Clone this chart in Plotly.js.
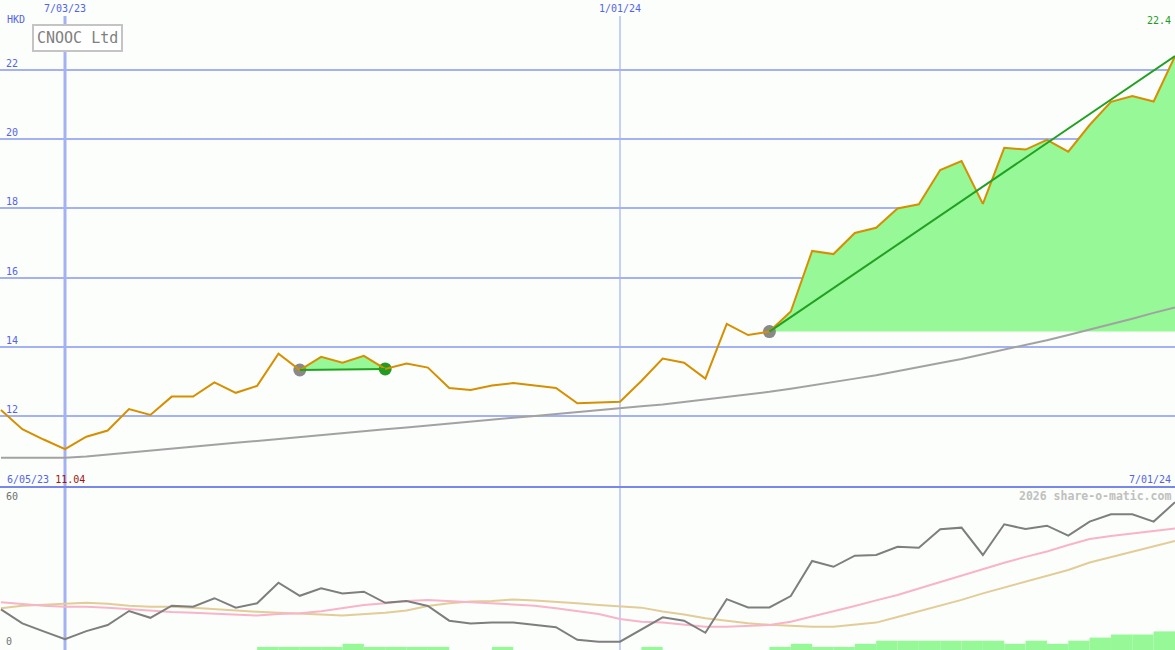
<!DOCTYPE html>
<html>
<head>
<meta charset="utf-8">
<script src="https://cdn.plot.ly/plotly-3.0.1.min.js"></script>
<style>html,body{margin:0;padding:0;background:#fbfefb;}#chart{width:1175px;height:650px;}</style>
</head>
<body>
<div id="chart"></div>
<script>
// ---------- data ----------
const dates = [
 '2023-06-12','2023-06-19','2023-06-26','2023-07-03','2023-07-10','2023-07-17','2023-07-24','2023-07-31',
 '2023-08-07','2023-08-14','2023-08-21','2023-08-28','2023-09-04','2023-09-11','2023-09-18','2023-09-25',
 '2023-10-02','2023-10-09','2023-10-16','2023-10-23','2023-10-30','2023-11-06','2023-11-13','2023-11-20',
 '2023-11-27','2023-12-04','2023-12-11','2023-12-18','2023-12-25','2024-01-01','2024-01-08','2024-01-15',
 '2024-01-22','2024-01-29','2024-02-05','2024-02-12','2024-02-19','2024-02-26','2024-03-04','2024-03-11',
 '2024-03-18','2024-03-25','2024-04-01','2024-04-08','2024-04-15','2024-04-22','2024-04-29','2024-05-06',
 '2024-05-13','2024-05-20','2024-05-27','2024-06-03','2024-06-10','2024-06-17','2024-06-24','2024-07-01'
];
const price = [
 12.17,11.62,11.32,11.04,11.40,11.58,12.20,12.03,12.56,12.56,
 12.97,12.67,12.87,13.80,13.33,13.71,13.54,13.74,13.36,13.52,
 13.40,12.81,12.75,12.88,12.95,12.89,12.81,12.37,12.38,12.41,
 13.01,13.66,13.54,13.08,14.66,14.34,14.44,15.02,16.77,16.68,
 17.29,17.44,18.00,18.12,19.11,19.37,18.13,19.75,19.70,19.98,
 19.64,20.41,21.08,21.25,21.09,22.40
];
const priceMA = [
 10.79,10.79,10.79,10.79,10.83,10.89,10.95,11.00,11.06,11.11,
 11.17,11.23,11.28,11.34,11.39,11.45,11.51,11.56,11.62,11.67,
 11.73,11.78,11.84,11.89,11.95,12.00,12.06,12.11,12.16,12.22,
 12.28,12.33,12.40,12.47,12.54,12.62,12.70,12.79,12.88,12.98,
 13.08,13.18,13.29,13.41,13.53,13.65,13.78,13.91,14.05,14.19,
 14.34,14.49,14.65,14.81,14.98,15.14
];
const oscillator = [
 16.0,10.2,6.9,3.6,7.0,9.5,15.3,12.5,17.5,17.1,
 20.6,16.7,18.5,27.0,21.6,24.7,22.6,23.3,18.7,19.4,
 17.4,11.3,10.1,10.5,10.5,9.5,8.6,3.4,2.6,2.6,
 7.7,12.7,11.3,6.3,20.2,16.8,16.8,21.5,36.0,33.6,
 38.2,38.5,41.9,41.5,49.1,49.8,38.5,51.2,49.2,50.6,
 46.5,52.3,55.3,55.3,52.3,60.3
];
const oscFast = [
 18.9,18.1,17.5,17.1,17.1,16.7,16.0,15.3,14.9,14.6,
 14.1,13.8,13.4,14.1,14.4,15.2,16.4,17.8,18.5,19.4,
 19.9,19.4,18.9,18.4,18.0,17.5,16.4,15.4,14.1,12.0,
 10.9,10.5,9.8,8.8,8.8,9.2,9.5,10.9,13.0,15.1,
 17.4,19.7,21.9,24.6,27.3,30.2,32.7,35.3,37.7,39.9,
 42.6,45.1,46.3,47.5,48.4,49.5
];
const oscSlow = [
 16.4,17.5,17.9,18.2,18.7,18.3,17.5,17.1,17.1,16.7,
 16.1,15.4,15.0,14.6,14.4,13.9,13.4,13.9,14.6,15.5,
 17.4,18.5,19.2,19.4,20.1,19.7,19.2,18.5,17.8,17.4,
 16.7,15.1,13.9,12.3,11.2,10.2,9.6,9.1,8.8,8.8,
 9.8,10.5,12.8,15.1,17.4,19.9,22.6,25.0,27.6,30.0,
 32.3,35.4,37.7,39.7,42.0,44.3
];
const volume = [
 0,0,0,0,0,0,0,0,0,0,
 0,0,1,1,1,1,2,1,1,1,
 1,0,0,1,0,0,0,0,0,0,
 1,0,0,0,0,0,1,2,1,1,
 2,3,3,3,3,3,3,2,3,2,
 3,4,5,5,6,0
];
const tradeStart = [14, 36];   // entry points (grey dots)
const tradeEnd   = [18, 55];   // exit / last points
const exitMarks  = [18];       // green dot
const priceTicks = [12, 14, 16, 18, 20, 22];
const oscTicks = [0, 60];
const dateLines = ['2023-07-03', '2024-01-01'];
const dateLineLabels = ['7/03/23', '1/01/24'];
const startLabel = '6/05/23';
const endLabel = '7/01/24';
const title = 'CNOOC Ltd';
const currency = 'HKD';
const credit = '2026 share-o-matic.com';

// ---------- styles ----------
const W = 1175, H = 650;
const bg = '#fbfefb';
const blue = '#5464ea';
const gridCol = '#a4b1f2';
const fillCol = '#96f896';
const orange = '#d68f00';
const trendGreen = '#22a022';
const font = 'DejaVu Sans Mono, monospace';
const splitY = 1 - 487 / H;
const px = v => v / W;
const py = v => 1 - v / H;

const traces = [];

// volume bars (bottom panel)
traces.push({
  type: 'bar', x: dates, y: volume, xaxis: 'x', yaxis: 'y3',
  width: 7 * 864e5, offset: 0,
  marker: {color: fillCol, line: {width: 0}}, hoverinfo: 'skip'
});

// green fill areas of each trade
tradeStart.forEach((a, i) => {
  const b = tradeEnd[i];
  const xs = dates.slice(a, b + 1);
  const ys = price.slice(a, b + 1);
  traces.push({x: xs, y: xs.map(() => price[a]), mode: 'lines', line: {width: 0, color: fillCol},
    xaxis: 'x', yaxis: 'y', hoverinfo: 'skip'});
  traces.push({x: xs, y: ys, mode: 'lines', fill: 'tonexty', fillcolor: fillCol,
    line: {width: 0, color: fillCol}, xaxis: 'x', yaxis: 'y', hoverinfo: 'skip'});
});

// long moving average
traces.push({x: dates, y: priceMA, mode: 'lines', line: {color: '#a2a2a2', width: 2}, xaxis: 'x', yaxis: 'y'});

// markers
traces.push({x: tradeStart.map(i => dates[i]), y: tradeStart.map(i => price[i]), mode: 'markers',
  marker: {color: '#898989', size: 13}, xaxis: 'x', yaxis: 'y'});
traces.push({x: exitMarks.map(i => dates[i]), y: exitMarks.map(i => price[i]), mode: 'markers',
  marker: {color: '#249a24', size: 13}, xaxis: 'x', yaxis: 'y'});

// price line
traces.push({x: dates, y: price, mode: 'lines', line: {color: orange, width: 2}, xaxis: 'x', yaxis: 'y'});

// trend lines
tradeStart.forEach((a, i) => {
  const b = tradeEnd[i];
  traces.push({x: [dates[a], dates[b]], y: [price[a], price[b]], mode: 'lines',
    line: {color: trendGreen, width: 2}, xaxis: 'x', yaxis: 'y'});
});

// bottom panel lines
traces.push({x: dates, y: oscSlow, mode: 'lines', line: {color: '#e2cc98', width: 2}, xaxis: 'x', yaxis: 'y2'});
traces.push({x: dates, y: oscFast, mode: 'lines', line: {color: '#f8b4c8', width: 2}, xaxis: 'x', yaxis: 'y2'});
traces.push({x: dates, y: oscillator, mode: 'lines', line: {color: '#7e7e7e', width: 2}, xaxis: 'x', yaxis: 'y2'});

// ---------- annotations ----------
const ann = [];
const f = (size, color, extra) => Object.assign({family: font, size: size, color: color}, extra || {});
ann.push({xref: 'paper', yref: 'paper', x: px(5), y: py(19), xanchor: 'left', yanchor: 'middle',
  text: currency, showarrow: false, font: f(10, blue)});
priceTicks.forEach(v => ann.push({xref: 'paper', yref: 'y', x: px(5), y: v, xanchor: 'left', yanchor: 'bottom',
  text: String(v), showarrow: false, font: f(10, blue), borderpad: 0}));
oscTicks.forEach(v => ann.push({xref: 'paper', yref: 'y2', x: px(5), y: v, xanchor: 'left', yanchor: 'bottom',
  text: String(v), showarrow: false, font: f(10, '#707070'), borderpad: 0}));
dateLines.forEach((d, i) => ann.push({xref: 'x', yref: 'paper', x: d, y: py(9), xanchor: 'center', yanchor: 'middle',
  text: dateLineLabels[i], showarrow: false, font: f(10, blue)}));
ann.push({xref: 'paper', yref: 'paper', x: px(1173), y: py(21), xanchor: 'right', yanchor: 'middle',
  text: String(price[price.length - 1]), showarrow: false, font: f(10, '#1f9a1f')});
ann.push({xref: 'paper', yref: 'paper', x: px(5), y: py(479), xanchor: 'left', yanchor: 'middle',
  text: '<span style="color:' + blue + '">' + startLabel + '</span> <span style="color:#a01414">' +
        Math.min(...price).toFixed(2) + '</span>', showarrow: false, font: f(10, blue)});
ann.push({xref: 'paper', yref: 'paper', x: px(1173), y: py(479), xanchor: 'right', yanchor: 'middle',
  text: endLabel, showarrow: false, font: f(10, blue)});
ann.push({xref: 'paper', yref: 'paper', x: px(1173), y: py(496), xanchor: 'right', yanchor: 'middle',
  text: '<b>' + credit + '</b>', showarrow: false, font: f(11.5, '#c0c0c0')});
ann.push({xref: 'paper', yref: 'paper', x: px(32), y: py(24), xanchor: 'left', yanchor: 'top',
  text: title, showarrow: false, font: f(15, '#808080'), bgcolor: '#ffffff',
  bordercolor: '#c4c4c4', borderwidth: 2, borderpad: 3});

// ---------- shapes ----------
const shapes = [];
dateLines.forEach((d, i) => shapes.push({type: 'line', xref: 'x', yref: 'paper', x0: d, x1: d,
  y0: 0, y1: py(16), layer: 'below', line: {color: gridCol, width: i === 0 ? 3 : 1.2}}));
shapes.push({type: 'line', xref: 'paper', yref: 'paper', x0: 0, x1: 1, y0: splitY, y1: splitY,
  layer: 'above', line: {color: '#7888ea', width: 2}});

const layout = {
  width: W, height: H, margin: {l: 0, r: 0, t: 0, b: 0},
  paper_bgcolor: bg, plot_bgcolor: bg, showlegend: false, barmode: 'overlay',
  xaxis: {type: 'date', range: ['2023-06-11 16:26', '2024-07-01 00:00'], showgrid: false, zeroline: false,
    showticklabels: false, showline: false, fixedrange: true},
  yaxis: {domain: [splitY, 1], range: [9.948, 24.023], tickvals: priceTicks, showticklabels: false,
    gridcolor: gridCol, gridwidth: 2, zeroline: false, showline: false, fixedrange: true},
  yaxis2: {domain: [0, splitY], range: [-0.83, 66.62], showgrid: false, zeroline: false,
    showticklabels: false, showline: false, fixedrange: true},
  yaxis3: {overlaying: 'y2', range: [0, 52.6], visible: false, fixedrange: true},
  annotations: ann, shapes: shapes
};

Plotly.newPlot('chart', traces, layout, {staticPlot: true, displayModeBar: false});
</script>
</body>
</html>
